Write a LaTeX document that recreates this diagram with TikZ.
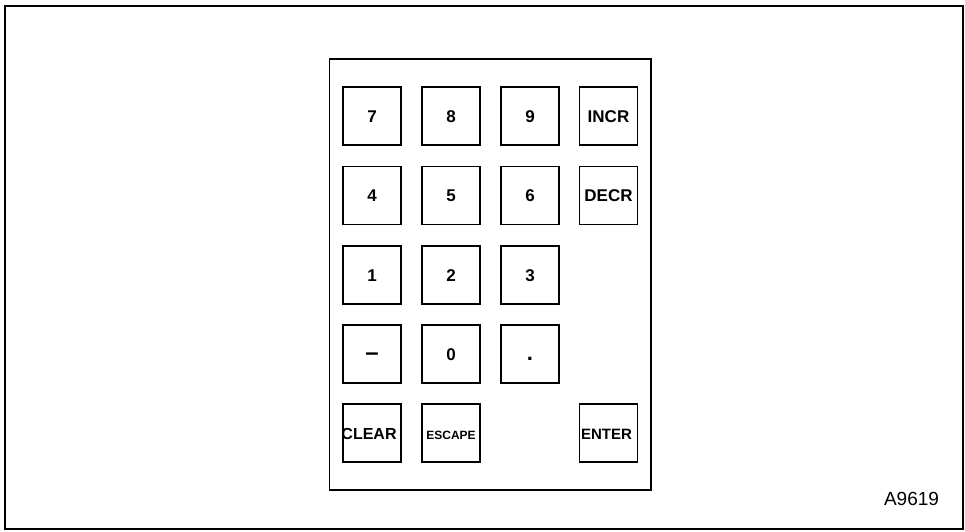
\documentclass[tikz,border=0pt]{standalone}
\usepackage{fontspec}
\setmainfont{Liberation Sans}
\usetikzlibrary{positioning}

\tikzset{
  keybox/.style={draw=black, line width=1.7pt, minimum size=58pt, inner sep=0pt,
    text height=12pt, text depth=0pt,
    font=\fontsize{17}{17}\selectfont\bfseries},
  smallkey/.style={keybox, font=\fontsize{12}{12}\selectfont\bfseries},
}

\begin{document}
\begin{tikzpicture}[x=1pt, y=-1pt]
      \useasboundingbox (0, 0) rectangle (965, 531);
      \draw[line width=2pt] (4.5, 5.5) rectangle (962.5, 529);

      % keypad housing
      \draw[line width=1.8pt] (329.5, 59) rectangle (651, 490);

      % keys, row by row
      \node[keybox] (k7) at (372, 116) {7};
      \node[keybox] (k8) at (451, 116) {8};
      \node[keybox] (k9) at (530, 116) {9};
      \node[keybox] (incr) at (608.5, 116) {INCR};

      \node[keybox] (k4) at (372, 195.5) {4};
      \node[keybox] (k5) at (451, 195.5) {5};
      \node[keybox] (k6) at (530, 195.5) {6};
      \node[keybox] (decr) at (608.5, 195.5) {DECR};

      \node[keybox] (k1) at (372, 275) {1};
      \node[keybox] (k2) at (451, 275) {2};
      \node[keybox] (k3) at (530, 275) {3};

      \node[keybox, font=\fontsize{24}{24}\selectfont\bfseries] (kminus) at (372, 354) {–};
      \node[keybox] (k0) at (451, 354) {0};
      \node[keybox, font=\fontsize{22}{22}\selectfont\bfseries] (kdot) at (530, 354) {.};

      \node[keybox, font=\fontsize{16}{16}\selectfont\bfseries] (clear) at (372, 433) {\hspace{-6pt}CLEAR};
      \node[smallkey] (escape) at (451, 433) {ESCAPE};
      \node[keybox, font=\fontsize{15}{15}\selectfont\bfseries] (enter) at (608.5, 433) {\hspace{-4pt}ENTER};

      \node[font=\fontsize{19}{19}\selectfont, anchor=base] (tag) at (911.5, 505.5) {A9619};
    \end{tikzpicture}
\end{document}
